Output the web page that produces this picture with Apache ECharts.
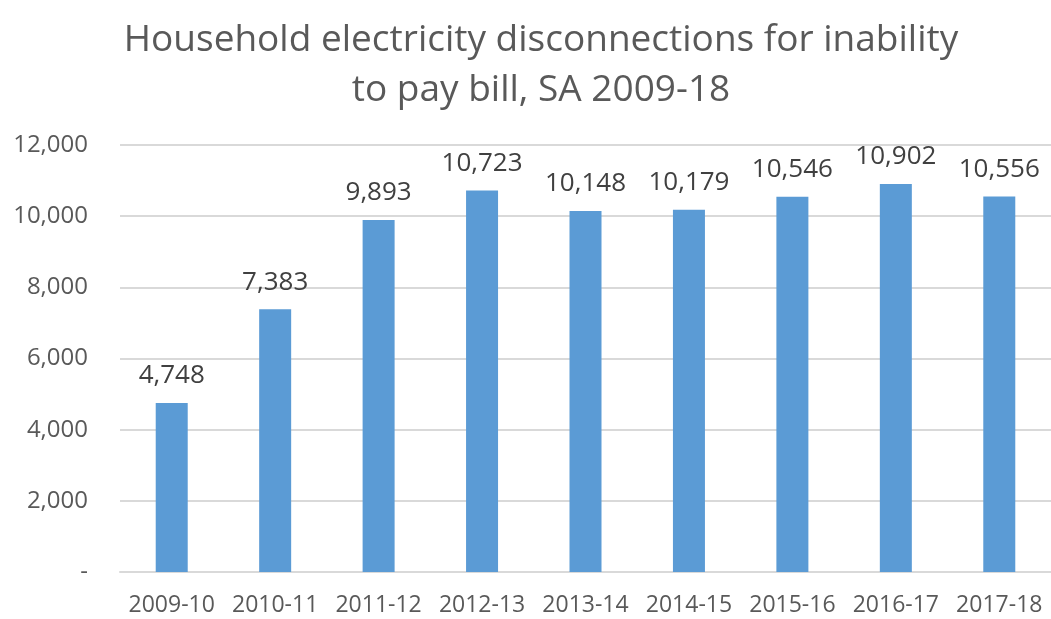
<!DOCTYPE html>
<html>
<head>
<meta charset="utf-8">
<script src="https://cdn.jsdelivr.net/npm/echarts@6/dist/echarts.min.js"></script>
<style>
  html, body { margin: 0; padding: 0; background: #fff; }
  #chart { width: 1051px; height: 619px; }
</style>
</head>
<body>
<div id="chart"></div>
<script>
// financial years and disconnection counts
var years = ['2009-10', '2010-11', '2011-12', '2012-13', '2013-14', '2014-15', '2015-16', '2016-17', '2017-18'];
var disconnections = [4748, 7383, 9893, 10723, 10148, 10179, 10546, 10902, 10556];

var yMin = 0;
var yMax = 12000;
var yStep = 2000;

var font = '"Open Sans", Lato, sans-serif';

var chart = echarts.init(document.getElementById('chart'));

var option = {
  animation: false,
  title: {
    text: 'Household electricity disconnections for inability\nto pay bill, SA 2009-18',
    left: 536,
    textAlign: 'center',
    top: 10,
    textStyle: {
      fontFamily: font,
      fontSize: 37,
      fontWeight: 'normal',
      color: '#595959',
      lineHeight: 50
    }
  },
  grid: {
    left: 120,
    right: -3,
    top: 145,
    bottom: 47
  },
  xAxis: {
    type: 'category',
    data: years,
    axisLine: { show: true, lineStyle: { color: '#d9d9d9', width: 2 } },
    axisTick: { show: false },
    axisLabel: {
      interval: 0,
      margin: 22,
      fontFamily: font,
      fontSize: 23,
      color: '#595959'
    }
  },
  yAxis: {
    type: 'value',
    min: yMin,
    max: yMax,
    interval: yStep,
    axisLine: { show: false },
    axisTick: { show: false },
    splitLine: { lineStyle: { color: '#d9d9d9', width: 2 } },
    axisLabel: {
      margin: 32,
      fontFamily: font,
      fontSize: 24,
      color: '#595959',
      formatter: function (v) {
        return v === 0 ? '-' : v.toLocaleString('en-US');
      }
    }
  },
  series: [{
    type: 'bar',
    data: disconnections,
    barWidth: 32,
    itemStyle: { color: '#5b9bd5' },
    label: {
      show: true,
      position: 'top',
      distance: 14,
      fontFamily: font,
      fontSize: 26,
      color: '#404040',
      formatter: function (p) {
        return p.value.toLocaleString('en-US');
      }
    }
  }]
};

chart.setOption(option);
</script>
</body>
</html>
